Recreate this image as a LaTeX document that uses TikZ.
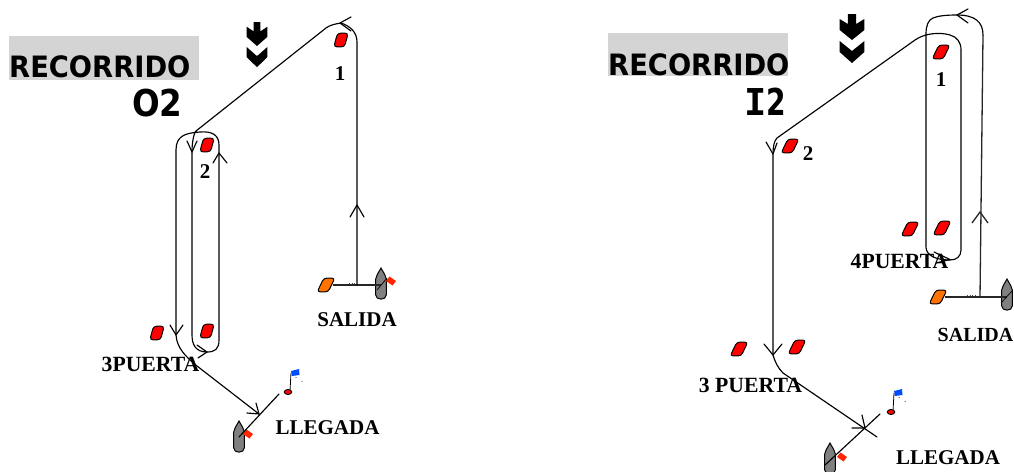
\documentclass[tikz,border=0pt]{standalone}
\usepackage{fontspec}
\setmainfont{Liberation Serif}
\newfontfamily\titlefont[FakeStretch=0.93]{DejaVu Sans}
\newfontfamily\codefont[FakeStretch=0.88]{DejaVu Sans}
\newfontfamily\codetwofont[FakeStretch=0.76]{DejaVu Sans}
\newfontfamily\slabfont{DejaVu Sans Mono}
\tikzset{
  x=1pt,y=-1pt,
  course/.style={draw=black,line width=1.15pt,line join=round,line cap=round},
  startline/.style={draw=black!85,line width=1.3pt},
  lab/.style={font=\fontsize{21}{21}\selectfont\bfseries,inner sep=0pt,anchor=center},
  gatelab/.style={font=\fontsize{21.7}{22}\selectfont\bfseries,inner sep=0pt,anchor=center},
  ttl/.style={font=\titlefont\fontsize{29.4}{31}\selectfont\bfseries,inner sep=0pt,anchor=base west},
  code/.style={font=\codefont\fontsize{37}{37}\selectfont\bfseries,inner sep=0pt,anchor=base west},
  panel/.style={fill=black!17,draw=none},
  pics/buoy/.style={code={
    \draw[fill=#1,line width=1pt,rounded corners=3pt]
      (-3.5,-6.8)--(7.2,-6.8)--(3.5,6.8)--(-7.2,6.8)--cycle;}},
  pics/widebuoy/.style={code={
    \draw[fill=#1,line width=1pt,rounded corners=3pt]
      (-2.2,-6.9)--(8.8,-6.9)--(2.2,6.9)--(-8.8,6.9)--cycle;}},
  pics/boat/.style={code={
    \draw[fill=black!50,line width=1pt]
      (-5.3,-5) .. controls (-4,-10) and (-1.5,-13) .. (0,-16)
      .. controls (1.5,-13) and (4,-10) .. (5.3,-5)
      -- (5.3,11) .. controls (5.3,16.5) and (-5.3,16.5) .. (-5.3,11) -- cycle;}},
  pics/startflag/.style={code={
    \fill[orange!30!red] (-1.5,-4.5)--(5,0)--(1.5,4.5)--(-5,0)--cycle;}},
  pics/finishflag/.style={code={
    \draw[line width=0.8pt] (0,0)--(1,-18);
    \draw[fill=red,line width=0.9pt] (-2,1) ellipse[x radius=3.8pt,y radius=2.5pt];
    \fill[blue!70!cyan] (1,-20)--(9,-22)--(9.5,-16)--(2,-15)--cycle;
    \fill (6,-13.5) circle[radius=.5pt];
    \fill (12,-9.5) circle[radius=.5pt];}},
  pics/wind/.style={code={
    \fill (-4,-26)--(4,-26)--(4,-16)--(12,-21)--(12,-10)--(0,0)--(-12,-10)--(-12,-21)--(-4,-16)--cycle;
    \fill (-12,1)--(0,11)--(12,1)--(12,12)--(0,23)--(-12,12)--cycle;}},
  ticks/.style={draw=black!70,line width=.8pt,dash pattern=on 1.2pt off 1.3pt}
}
\begin{document}
\begin{tikzpicture}
\useasboundingbox (0,0) rectangle (1014,471);
% ---- titles ----
\fill[panel] (9,36) rectangle (199,80);
\fill[panel] (608,33) rectangle (788,76);
\node[ttl] (titleL) at (9,77.5) {RECORRIDO};
\node[code] (codeL) at (132,116) {O2};
\node[ttl] (titleR) at (608,75) {RECORRIDO};
\node[code] (codeR) at (744,115) {{\slabfont I}{\codetwofont 2}};

\pic[xscale=.87,yscale=.92] at (257,46) {wind};
\pic[xscale=1.03] at (852,40) {wind};

% left labels
\node[lab] (one) at (340,74) {1};
\node[lab] (two) at (205,172) {2};
\node[gatelab] (gate) at (150.5,364) {3PUERTA};
\node[lab] (startL) at (357,320) {SALIDA};
\node[lab] (finL) at (327.5,428) {LLEGADA};

% left marks
\coordinate (a1) at (341,40);
\coordinate (a2) at (207,145);
\coordinate (a3) at (157,333);
\coordinate (a4) at (207,331);
\coordinate (aO) at (326,285);
\coordinate (aB) at (381,284);
\coordinate (aF) at (239,437);
\coordinate (aQ) at (290,391);
\coordinate (aX) at (357,285);
\coordinate (aE) at (279,394);
\pic at (a1) {buoy=red};
\pic at (a2) {buoy=red};
\pic at (a3) {buoy=red};
\pic at (a4) {buoy=red};
\pic at (aO) {widebuoy=orange!90!red};
\pic at (aB) {boat};
\pic at (391,281) {startflag};
\pic at (aF) {boat};
\pic at (248,434) {startflag};
\pic at (aQ) {finishflag};

\draw[startline] (aO)++(7,0) -- (aB |- aO);
\draw[ticks] (349,283.5)--(355,283.5);
\draw[line width=.7pt] (377,290)--(387,278);
\draw[course] (aX) -- (357,42) .. controls (357,32) and (350,26) .. (341,23)
  .. controls (335,24) and (330,25) .. (326,28) -- (196,131)
  .. controls (193,135) and (192,145) .. (192,152)
  -- (192,335) .. controls (192,345) and (196,352) .. (207,352)
  .. controls (215,352) and (219,349) .. (219,340) -- (219,145)
  .. controls (219,135) and (212,131) .. (200,132)
  .. controls (185,133) and (176,136) .. (176,150)
  -- (176,335) .. controls (177,348) and (185,356) .. (197,366) -- (259,414);
\draw[course] (aE) -- (aF)++(-4,5);
\draw[course] (351,17)--(340,23)--(351,31);
\draw[course] (350,217)--(357,205)--(364,217);
\draw[course] (187,141)--(192,152)--(197,141);
\draw[course] (213,163)--(219,153)--(227,163);
\draw[course] (170,325)--(176,335)--(183,325);
\draw[course] (197,345)--(207,352)--(198,358);
\draw[course] (256,403)--(259,414)--(247,413);

% right labels
\node[lab] (oneR) at (941,80) {1};
\node[lab] (twoR) at (808,154) {2};
\node[gatelab] (gate3) at (750.5,385) {3 PUERTA};
\node[gatelab] (gate4) at (899.5,261) {4PUERTA};
\node[lab,font=\fontsize{20}{20}\selectfont\bfseries] (startR) at (975.5,335) {SALIDA};
\node[lab] (finR) at (948,458) {LLEGADA};

% right marks
\coordinate (b1) at (941,52);
\coordinate (b2) at (790,146);
\coordinate (b3) at (739,349);
\coordinate (b4) at (797,347);
\coordinate (b5) at (910,229);
\coordinate (b6) at (942,228);
\coordinate (bO) at (938,297);
\coordinate (bB) at (1007,295);
\coordinate (bF) at (830,459);
\coordinate (bQ) at (893,411);
\coordinate (bX) at (980,297);
\coordinate (bE) at (880,414);
\pic at (b1) {widebuoy=red};
\pic at (b2) {widebuoy=red};
\pic at (b3) {widebuoy=red};
\pic at (b4) {widebuoy=red};
\pic at (b5) {widebuoy=red};
\pic at (b6) {widebuoy=red};
\pic at (bO) {widebuoy=orange!90!red};
\pic at (bB) {boat};
\pic at (bF) {boat};
\pic at (842,457) {startflag};
\pic at (bQ) {finishflag};

\draw[startline] (bO)++(7,0) -- (bB |- bO);
\draw[ticks] (967,295.5)--(977,295.5);
\draw[line width=.7pt] (1001,303)--(1012,291);
\draw[startline] (bX) -- (983,35);
\draw[course] (983,35) .. controls (983,22) and (975,15) .. (957,15)
  .. controls (945,15) and (938,16) .. (933,18)
  .. controls (928,20) and (926,26) .. (926,34) -- (926,247)
  .. controls (926,255) and (935,260) .. (950,260)
  .. controls (957,260) and (961,256) .. (961,250) -- (961,50)
  .. controls (961,42) and (957,37) .. (950,35)
  .. controls (940,32) and (925,33) .. (915,40) -- (777,138)
  .. controls (774,141) and (773,147) .. (773,154) -- (773,355)
  .. controls (775,362) and (778,368) .. (783,373) -- (877,437);
\draw[course] (bE) -- (825,465);
\draw[course] (968,9)--(957,15)--(968,23);
\draw[startline] (972,223)--(980,212)--(988,223);
\draw[course] (766,142)--(773,154)--(777,143);
\draw[course] (764,344)--(773,355)--(782,344);
\draw[course] (862,415)--(865,428)--(852,428);
\draw[course] (934,252)--(950,259.5)--(936,263);
\end{tikzpicture}
\end{document}
